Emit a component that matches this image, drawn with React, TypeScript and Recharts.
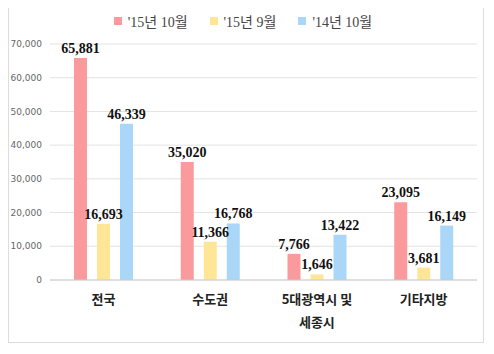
import React from "react";
import {
  BarChart,
  Bar,
  XAxis,
  YAxis,
  CartesianGrid,
  Legend,
  LabelList,
} from "recharts";

const regions = ["전국", "수도권", "5대광역시 및 세종시", "기타지방"];
const oct15 = [65881, 35020, 7766, 23095];
const sep15 = [16693, 11366, 1646, 3681];
const oct14 = [46339, 16768, 13422, 16149];
const yTicks = [0, 10000, 20000, 30000, 40000, 50000, 60000, 70000];

const series = [
  { key: "oct15", name: "'15년 10월", color: "#FA9A9C" },
  { key: "sep15", name: "'15년 9월", color: "#FFE697" },
  { key: "oct14", name: "'14년 10월", color: "#AAD6F8" },
];

const data = regions.map((name, i) => ({
  name,
  oct15: oct15[i],
  sep15: sep15[i],
  oct14: oct14[i],
}));

const fmt = (v: number) => v.toLocaleString("en-US");

const labelStyle = {
  fontFamily: "'Liberation Serif', serif",
  fontWeight: 700,
  fontSize: 14,
  fill: "#111",
};

const RegionTick = (props: any) => {
  const { x, y, payload } = props;
  const text: string = payload.value;
  let lines = [text];
  if (text.length > 6 && text.includes(" ")) {
    const cut = text.lastIndexOf(" ");
    lines = [text.slice(0, cut), text.slice(cut + 1)];
  }
  return (
    <g transform={`translate(${x},${y})`}>
      {lines.map((ln, i) => (
        <text
          key={i}
          x={0}
          y={i * 23}
          dy={16}
          textAnchor="middle"
          fill="#222"
          fontSize={13}
          fontWeight={600}
          fontFamily="'Noto Sans CJK KR', sans-serif"
        >
          {ln}
        </text>
      ))}
    </g>
  );
};

const LegendRow = () => (
  <div
    style={{
      display: "flex",
      justifyContent: "center",
      gap: 22,
      fontSize: 14,
      fontFamily: "'Liberation Serif', 'Noto Sans CJK KR', serif",
      color: "#444",
    }}
  >
    {series.map((s) => (
      <span key={s.key} style={{ display: "flex", alignItems: "center" }}>
        <span
          style={{
            width: 8,
            height: 8,
            background: s.color,
            display: "inline-block",
            marginRight: 6,
          }}
        />
        {s.name}
      </span>
    ))}
  </div>
);

export default function App() {
  return (
    <div
      style={{
        width: 476,
        height: 338,
        marginTop: -3,
        border: "1px solid #ddd",
        boxSizing: "border-box",
        background: "#fff",
      }}
    >
      <BarChart
        width={474}
        height={336}
        data={data}
        margin={{ top: 10, right: 6, bottom: 0, left: 0 }}
        barCategoryGap={24}
        barGap={10}
      >
        <CartesianGrid vertical={false} stroke="#e3e3e3" />
        <XAxis
          dataKey="name"
          tick={<RegionTick />}
          tickLine={false}
          axisLine={{ stroke: "#ccc" }}
          interval={0}
          height={62}
        />
        <YAxis
          domain={[0, 70000]}
          ticks={yTicks}
          tickFormatter={fmt}
          tickLine={false}
          axisLine={false}
          width={41}
          tick={{ fontSize: 9, fill: "#666", fontFamily: "'DejaVu Sans', sans-serif" }}
        />
        <Legend
          verticalAlign="top"
          align="center"
          height={28}
          wrapperStyle={{ top: 5 }}
          content={<LegendRow />}
        />
        {series.map((s) => (
          <Bar
            key={s.key}
            dataKey={s.key}
            name={s.name}
            fill={s.color}
            isAnimationActive={false}
          >
            <LabelList
              dataKey={s.key}
              position="top"
              formatter={fmt}
              style={labelStyle}
              offset={5}
            />
          </Bar>
        ))}
      </BarChart>
    </div>
  );
}
